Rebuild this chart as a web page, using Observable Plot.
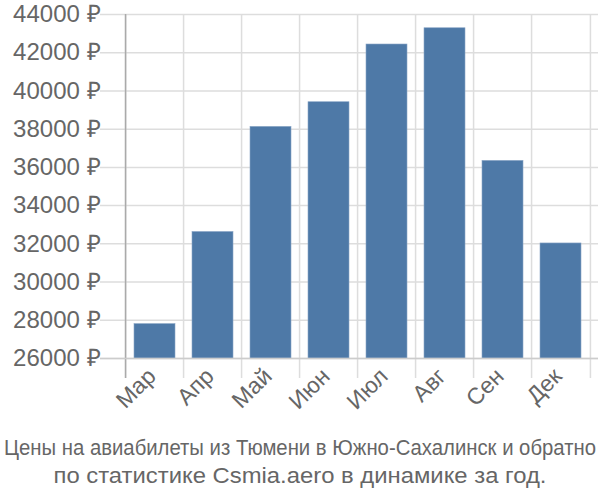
<!DOCTYPE html>
<html><head><meta charset="utf-8">
<script src="https://cdn.jsdelivr.net/npm/d3@7"></script>
<script src="https://cdn.jsdelivr.net/npm/@observablehq/plot@0.6"></script>
<style>
body{margin:0;background:#fff;font-family:"Liberation Sans",Arial,sans-serif;}
</style></head><body>
<div id="chart"></div>
<div id="cap"></div>
<script>
const months = ["Мар","Апр","Май","Июн","Июл","Авг","Сен","Дек"];
const prices = [27800, 32620, 38120, 39410, 42430, 43280, 36340, 32020];
const yTicks = [26000,28000,30000,32000,34000,36000,38000,40000,42000,44000];
const captionLines = ["Цены на авиабилеты из Тюмени в Южно-Сахалинск и обратно","по статистике Csmia.aero в динамике за год."];
const data = months.map((m,i)=>({month:m, price:prices[i]}));
const W=600, H=432, mL=122, mR=7, mT=14, mB=74;
const step=(W-mL-mR)/months.length;
const chart = Plot.plot({
  width:W, height:H, marginLeft:mL, marginRight:mR, marginTop:mT, marginBottom:mB,
  style:{fontFamily:"Liberation Sans, Arial, sans-serif", fontSize:"23px", color:"#666", background:"#fff"},
  x:{domain:months, paddingInner:0.29, paddingOuter:0.145, label:null},
  y:{domain:[26000,44000], label:null},
  marks:[
    Plot.ruleY(yTicks,{stroke:"#ddd", strokeWidth:1.5, insetLeft:-22, insetRight:-5}),
    Plot.ruleX(months,{x:d=>d, dx:-step/2, stroke:"#ddd", strokeWidth:1.5, insetBottom:-20}),
    Plot.ruleX([months[months.length-1]],{x:d=>d, dx:step/2, stroke:"#ddd", strokeWidth:1.5, insetBottom:-20}),
    Plot.ruleX([months[0]],{x:d=>d, dx:-step/2, stroke:"#aaa", strokeWidth:1.5, insetBottom:-20}),
    Plot.barY(data,{x:"month", y1:26000, y2:"price", fill:"#4e79a7", stroke:"#8aa6c6", strokeWidth:0.6}),
    Plot.ruleY([26000],{stroke:"#ccc", strokeWidth:1.5, insetLeft:-22, insetRight:-5}),
    Plot.axisY(yTicks,{tickSize:0, tickPadding:22, tickFormat:d=>d+" ₽", fill:"#666", fontSize:24}),
    Plot.axisX({tickSize:0, tickRotate:-45, tickPadding:14, dx:-3, fill:"#666", fontSize:23})
  ]
});
document.getElementById("chart").appendChild(chart);
const cap = d3.select("#cap").append("svg").attr("width",600).attr("height",68)
  .style("display","block").style("font-family","Liberation Sans, Arial, sans-serif");
cap.append("text").attr("x",300).attr("y",23).attr("text-anchor","middle").attr("fill","#666")
  .attr("font-size",22).attr("textLength",592).attr("lengthAdjust","spacingAndGlyphs").text(captionLines[0]);
cap.append("text").attr("x",300).attr("y",51).attr("text-anchor","middle").attr("fill","#666")
  .attr("font-size",22).attr("textLength",493).attr("lengthAdjust","spacingAndGlyphs").text(captionLines[1]);
</script>
</body></html>
